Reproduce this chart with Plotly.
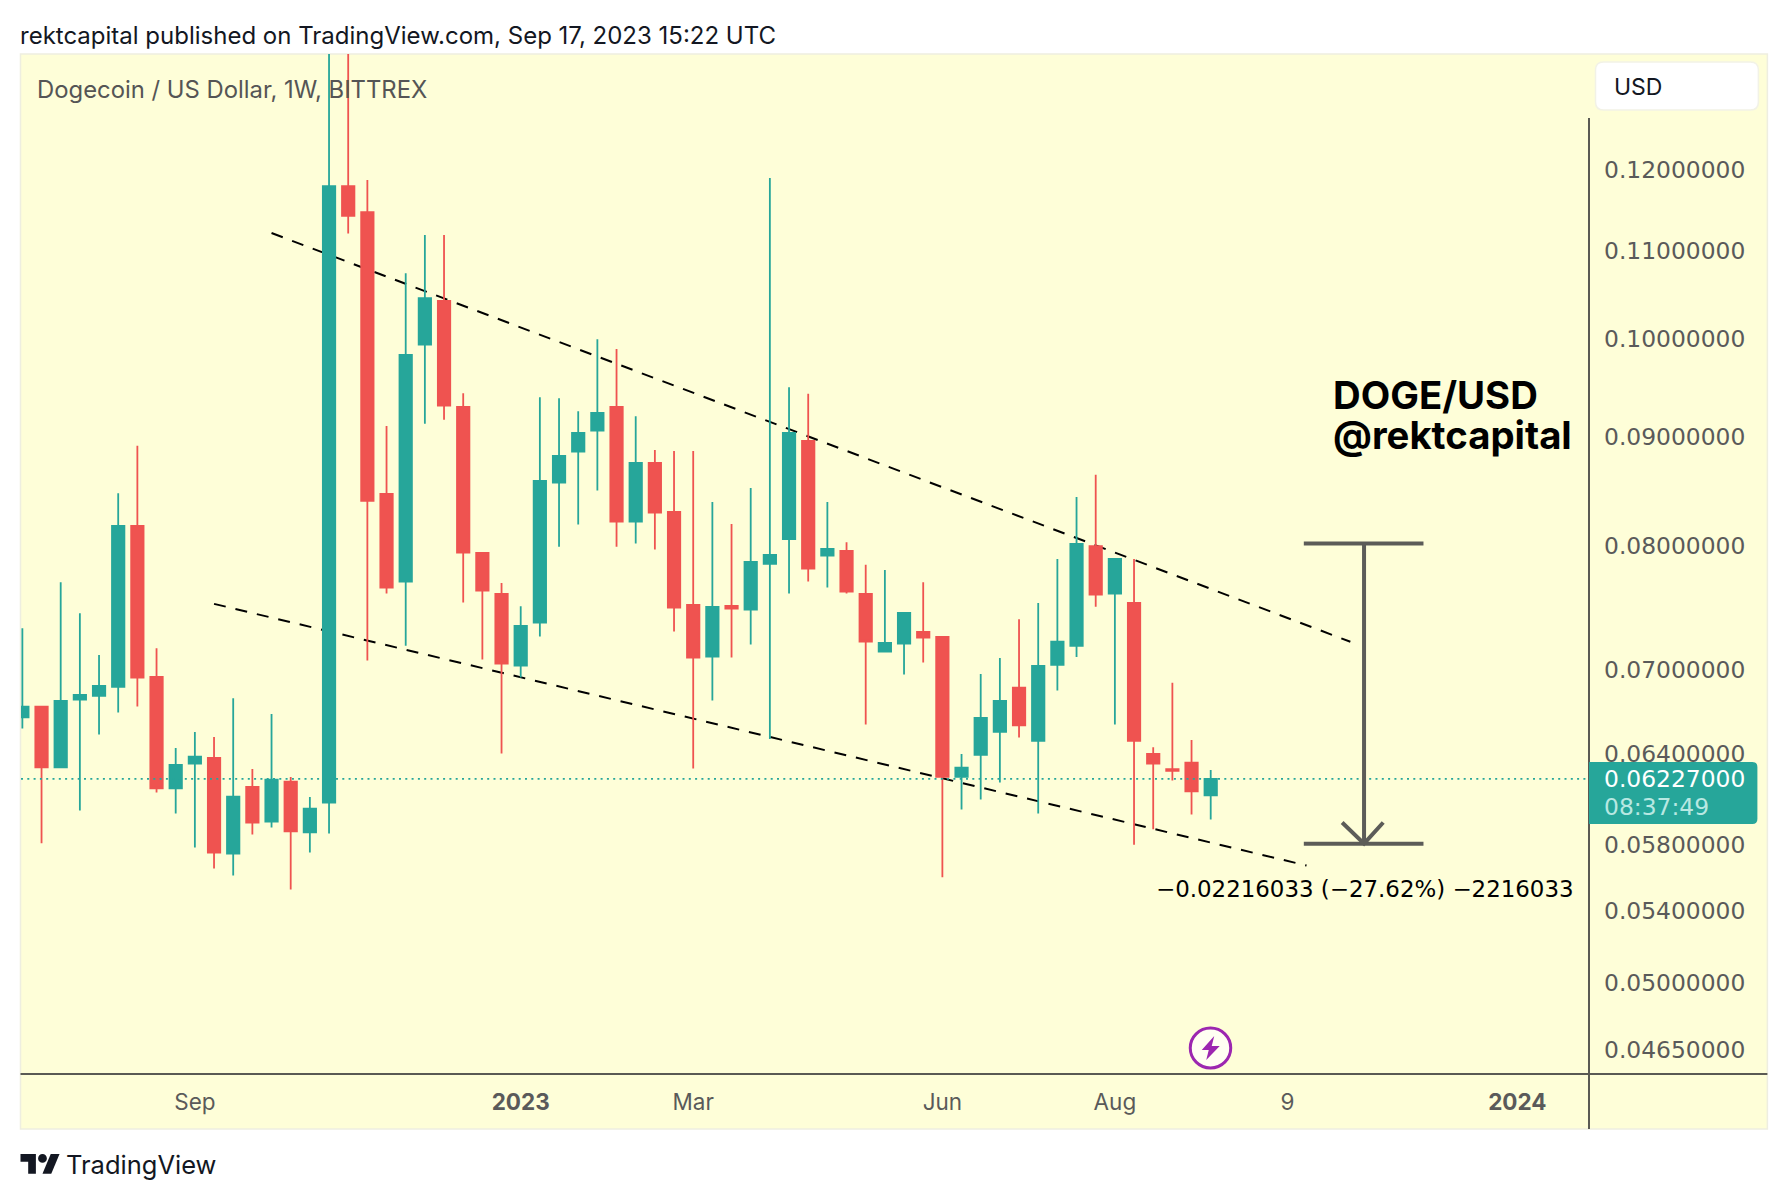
import math
import pandas as pd
import plotly.graph_objects as go

W, H = 1788, 1200
PL, PR, PT, PB = 20.5, 1588.5, 54.0, 1074.0

# ---- data ----
week_start = pd.date_range("2022-07-04", periods=63, freq="7D")
opens = [.06653,.06730,.06304,.06782,.06809,.06876,.08178,.06950,.06163,.06331,
         .06370,.05746,.06174,.05947,.06208,.05878,.06070,.11792,.11467,.08465,
         .07702,.09941,.10421,.09295,.07943,.07600,.07036,.07369,.08568,.08859,
         .09062,.09295,.08216,.08752,.08302,.07510,.07103,.07502,.07472,.07851,
         .08063,.08961,.07920,.07961,.07600,.07142,.07204,.07295,.07256,.06241,
         .06390,.06551,.06869,.06488,.07041,.07186,.08002,.07603,.07527,.06396,
         .06293,.06336,.06117]
highs = [.07324,.06730,.07697,.07443,.07115,.08470,.08914,.07168,.06437,.06549,
         .06514,.06792,.06293,.06677,.06239,.06106,.14900,.14500,.11869,.09107,
         .10735,.11187,.11187,.09433,.07943,.07689,.07500,.09393,.09382,.09252,
         .09998,.09895,.09203,.08875,.08866,.08866,.08392,.08195,.08519,.11896,
         .09494,.09428,.08392,.08035,.07842,.07799,.07446,.07697,.07256,.06396,
         .06971,.07092,.07396,.07525,.07892,.08437,.08640,.07892,.07892,.06443,
         .06906,.06493,.06286]
lows = [.06574,.05810,.06304,.06018,.06532,.06688,.06732,.06136,.05999,.05783,
        .05654,.05612,.05865,.05909,.05528,.05752,.05871,.11206,.07074,.07603,
        .07188,.09128,.09169,.07529,.07081,.06400,.06945,.07259,.07997,.08189,
        .08495,.07997,.08023,.07972,.07298,.06297,.06775,.07096,.07196,.06500,
        .07603,.07702,.07652,.07603,.06603,.07142,.06968,.07059,.05600,.06025,
        .06090,.06203,.06511,.05999,.06849,.07100,.07496,.06603,.05800,.05898,
        .06216,.05992,.05960]
closes = [.06730,.06304,.06773,.06817,.06883,.08178,.06945,.06163,.06322,.06377,
          .05752,.06108,.05941,.06221,.05884,.06030,.11792,.11422,.08401,.07652,
          .09831,.10452,.09308,.07946,.07627,.07051,.07343,.08584,.08818,.09039,
          .09237,.08216,.08752,.08296,.07489,.07096,.07494,.07480,.07867,.07926,
          .09039,.07810,.07978,.07619,.07220,.07210,.07446,.07251,.06241,.06302,
          .06650,.06773,.06596,.07033,.07218,.08020,.07595,.07892,.06488,.06331,
          .06281,.06143,.06227]

price_ticks = [.12, .11, .10, .09, .08, .07, .064, .058, .054, .05, .0465]
date_ticks = ["2022-09-05", "2023-01-02", "2023-03-06", "2023-06-05", "2023-08-07", "2023-10-09", "2024-01-01"]
date_labels = ["Sep", "<b>2023</b>", "Mar", "Jun", "Aug", "9", "<b>2024</b>"]

last_price = 0.06227
upper_trend_x = ["2022-10-03", "2023-11-01"]
upper_trend_y = [.11211, .07218]
lower_trend_x = ["2022-09-12", "2023-10-16"]
lower_trend_y = [.07519, .05672]
ruler_top, ruler_bottom = 0.08023, 0.05807
ruler_left, ruler_mid, ruler_right = "2023-10-15", "2023-11-06", "2023-11-27 17:00"
arrow_left, arrow_right, arrow_y = "2023-10-29", "2023-11-13", 0.05941
x_range = ["2022-07-03 12:00", "2024-01-26 19:00"]
y_range = [0.04531, 0.13596]

# ---- colours ----
TEAL, RED = "#26A69A", "#EF5350"
PANEL, EDGE = "#FEFED8", "#EEEEE0"
AXIS, LABEL, INK = "#5A5A54", "#5A5A5A", "#131722"
FONT = "Inter"
NUM_FONT = "DejaVu Sans"
TICK_SIZE = 22.5
NUM_SIZE = 23.4


def px(x):
    return (x - PL) / (PR - PL)


def py(y):
    return (PB - y) / (PB - PT)


def poly(points):
    return "M " + " L ".join(f"{px(x):.5f},{py(y):.5f}" for x, y in points) + " Z"


def rounded(x0, y0, x1, y1, r):
    return (f"M {px(x0):.5f},{py(y0):.5f} L {px(x1-r):.5f},{py(y0):.5f} "
            f"Q {px(x1):.5f},{py(y0):.5f} {px(x1):.5f},{py(y0+r):.5f} "
            f"L {px(x1):.5f},{py(y1-r):.5f} Q {px(x1):.5f},{py(y1):.5f} {px(x1-r):.5f},{py(y1):.5f} "
            f"L {px(x0):.5f},{py(y1):.5f} Z")


def rounded_all(x0, y0, x1, y1, r):
    return (f"M {px(x0+r):.5f},{py(y0):.5f} L {px(x1-r):.5f},{py(y0):.5f} "
            f"Q {px(x1):.5f},{py(y0):.5f} {px(x1):.5f},{py(y0+r):.5f} "
            f"L {px(x1):.5f},{py(y1-r):.5f} Q {px(x1):.5f},{py(y1):.5f} {px(x1-r):.5f},{py(y1):.5f} "
            f"L {px(x0+r):.5f},{py(y1):.5f} Q {px(x0):.5f},{py(y1):.5f} {px(x0):.5f},{py(y1-r):.5f} "
            f"L {px(x0):.5f},{py(y0+r):.5f} Q {px(x0):.5f},{py(y0):.5f} {px(x0+r):.5f},{py(y0):.5f} Z")


def note(text, x, y, size, color=INK, anchor="left", bold=False, family=FONT):
    return dict(text=f"<b>{text}</b>" if bold else text, x=px(x), y=py(y), xref="paper", yref="paper",
                xanchor=anchor, yanchor="middle", showarrow=False, align="left",
                font=dict(family=family, size=size, color=color))


fig = go.Figure()
fig.add_trace(go.Candlestick(
    x=week_start, open=opens, high=highs, low=lows, close=closes,
    increasing=dict(line=dict(color=TEAL, width=1.8), fillcolor=TEAL),
    decreasing=dict(line=dict(color=RED, width=1.8), fillcolor=RED),
    whiskerwidth=0, hoverinfo="skip",
))
fig.add_trace(go.Scatter(x=x_range, y=[last_price, last_price], mode="lines", hoverinfo="skip",
                         line=dict(color=TEAL, width=1.8, dash="2px,4.3px")))
ruler = dict(color="#5C5C58", width=4)
fig.add_trace(go.Scatter(x=[ruler_left, ruler_right], y=[ruler_top, ruler_top], mode="lines", line=ruler, hoverinfo="skip"))
fig.add_trace(go.Scatter(x=[ruler_mid, ruler_mid], y=[ruler_top, ruler_bottom], mode="lines", line=ruler, hoverinfo="skip"))
fig.add_trace(go.Scatter(x=[ruler_left, ruler_right], y=[ruler_bottom, ruler_bottom], mode="lines", line=ruler, hoverinfo="skip"))
fig.add_trace(go.Scatter(x=[arrow_left, ruler_mid, arrow_right], y=[arrow_y, ruler_bottom, arrow_y], mode="lines", line=ruler, hoverinfo="skip"))

paper = dict(xref="paper", yref="paper")
trend = dict(color="#000000", width=2, dash="12px,10px")
shapes = [
    dict(type="rect", x0=px(20), x1=px(1768), y0=py(54), y1=py(1129), layer="below",
         fillcolor=PANEL, line=dict(color=EDGE, width=1.5), **paper),
    dict(type="line", x0=upper_trend_x[0], x1=upper_trend_x[1], y0=upper_trend_y[0], y1=upper_trend_y[1],
         xref="x", yref="y", layer="below", line=trend),
    dict(type="line", x0=lower_trend_x[0], x1=lower_trend_x[1], y0=lower_trend_y[0], y1=lower_trend_y[1],
         xref="x", yref="y", layer="below", line=trend),
    dict(type="line", x0=px(20), x1=px(1768), y0=py(1074), y1=py(1074), line=dict(color=AXIS, width=2), **paper),
    dict(type="line", x0=px(1589.5), x1=px(1589.5), y0=py(118), y1=py(1129), line=dict(color=AXIS, width=2), **paper),
    # last price badge
    dict(type="path", path=rounded(1589.5, 762, 1758, 824, 5), fillcolor=TEAL, line=dict(width=0), **paper),
    # USD box
    dict(type="path", path=rounded_all(1596, 62, 1759, 110, 8), fillcolor="#FFFFFF",
         line=dict(color="#F2F2E6", width=1.5), **paper),
    # event icon
    dict(type="circle", x0=px(1190.5), x1=px(1231), y0=py(1028), y1=py(1068), fillcolor="#FFFFF2",
         line=dict(color="#9C27B0", width=3), **paper),
    dict(type="path", path=poly([(1214.5, 1036), (1202, 1050), (1209, 1050), (1206.5, 1060),
                                 (1220, 1046), (1212, 1046)]), fillcolor="#9C27B0", line=dict(width=0), **paper),
]
# TradingView logo
lx, ly, ls = 20.0, 1154 - 4 * 1.1, 1.1
shapes += [
    dict(type="path", path=poly([(lx + a * ls, ly + b * ls) for a, b in
                                 [(14, 22), (7, 22), (7, 11), (0, 11), (0, 4), (14, 4)]]),
         fillcolor=INK, line=dict(width=0), **paper),
    dict(type="path", path=poly([(lx + a * ls, ly + b * ls) for a, b in
                                 [(28, 22), (20, 22), (27.5, 4), (35.5, 4)]]),
         fillcolor=INK, line=dict(width=0), **paper),
    dict(type="circle", x0=px(lx + 16 * ls), x1=px(lx + 24 * ls), y0=py(ly + 4 * ls), y1=py(ly + 12 * ls),
         fillcolor=INK, line=dict(width=0), **paper),
]

annotations = [
    note("rektcapital published on TradingView.com, Sep 17, 2023 15:22 UTC", 17, 35, 24),
    note("Dogecoin / US Dollar, 1W, BITTREX", 34.5, 90, 23.85, color="#555555"),
    note("USD", 1612.5, 87, 23),
    note("DOGE/USD", 1331.5, 395, 38.3, color="#000000", bold=True),
    note("@rektcapital", 1331.5, 435, 38.3, color="#000000", bold=True),
    note("\u22120.02216033 (\u221227.62%) \u22122216033", 1154, 889, 22.9, color="#000000", family=NUM_FONT),
    note("0.06227000", 1603, 779, NUM_SIZE, color="#FFFFFF", family=NUM_FONT),
    note("08:37:49", 1603, 807, NUM_SIZE, color="#B8E8E2", family=NUM_FONT),
    note("TradingView", 64, 1164, 25.5),
]

fig.update_layout(
    width=W, height=H, autosize=False,
    margin=dict(l=PL, r=W - PR, t=PT, b=H - PB, pad=0),
    paper_bgcolor="#FFFFFF", plot_bgcolor="rgba(0,0,0,0)",
    showlegend=False, boxgap=0.354, boxgroupgap=0, dragmode=False, hovermode=False,
    shapes=shapes, annotations=annotations,
    font=dict(family=FONT, color=LABEL),
    xaxis=dict(type="date", range=x_range, tickvals=date_ticks, ticktext=date_labels, showgrid=False,
               zeroline=False, showline=False, ticks="", rangeslider=dict(visible=False), tickangle=0,
               ticklabelstandoff=12, tickfont=dict(family=FONT, size=TICK_SIZE, color=LABEL)),
    yaxis=dict(type="log", range=[math.log10(y_range[0]), math.log10(y_range[1])], tickvals=price_ticks,
               ticktext=[f"{v:.8f}" for v in price_ticks], side="right", showgrid=False, zeroline=False,
               showline=False, ticks="", ticklabelstandoff=15,
               tickfont=dict(family=NUM_FONT, size=NUM_SIZE, color=LABEL)),
)

fig.write_html("out.html", config=dict(displayModeBar=False, staticPlot=True),
               post_script="document.body.style.margin='0';document.body.style.overflow='hidden';")
